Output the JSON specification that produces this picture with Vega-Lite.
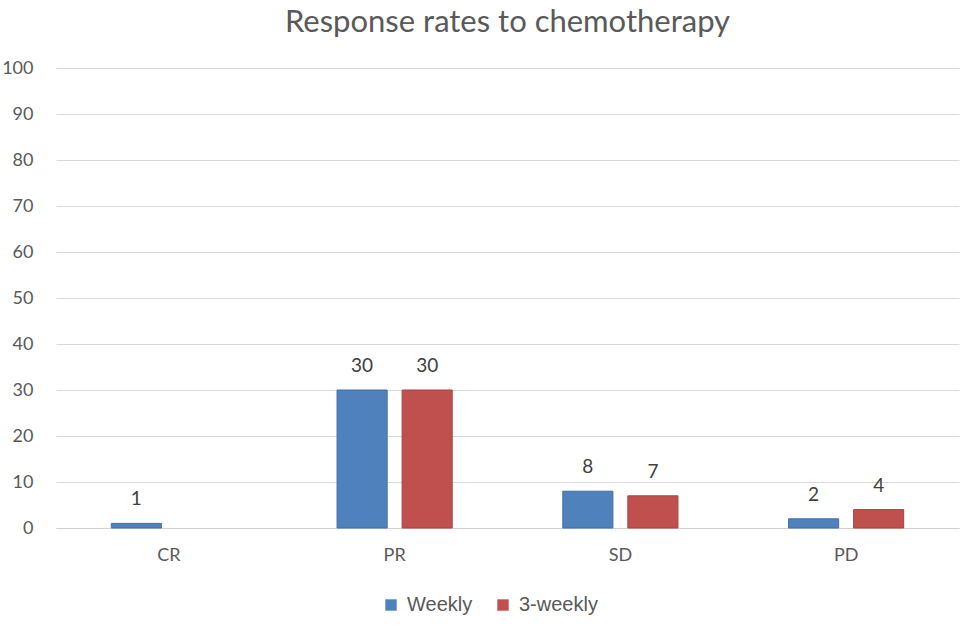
{
  "$schema": "https://vega.github.io/schema/vega-lite/v6.json",
  "autosize": "none",
  "padding": {"left": 56, "top": 68, "right": 1, "bottom": 101},
  "width": 903,
  "height": 460,
  "background": "white",
  "title": {
    "text": "Response rates to chemotherapy",
    "font": "Lato",
    "fontSize": 31,
    "fontWeight": "normal",
    "color": "#595959",
    "anchor": "middle",
    "offset": 20
  },
  "config": {
    "view": {"stroke": null},
    "font": "Lato"
  },
  "data": {
    "values": [
      {"response": "CR", "schedule": "Weekly", "value": 1},
      {"response": "CR", "schedule": "3-weekly", "value": 0},
      {"response": "PR", "schedule": "Weekly", "value": 30},
      {"response": "PR", "schedule": "3-weekly", "value": 30},
      {"response": "SD", "schedule": "Weekly", "value": 8},
      {"response": "SD", "schedule": "3-weekly", "value": 7},
      {"response": "PD", "schedule": "Weekly", "value": 2},
      {"response": "PD", "schedule": "3-weekly", "value": 4}
    ]
  },
  "encoding": {
    "x": {
      "field": "response",
      "type": "nominal",
      "sort": ["CR", "PR", "SD", "PD"],
      "scale": {"paddingInner": 0.49, "paddingOuter": 0.245},
      "axis": {
        "title": null,
        "labelAngle": 0,
        "labelFontSize": 18,
        "labelColor": "#595959",
        "labelPadding": 18,
        "ticks": false,
        "domainColor": "#d0d0d0",
        "grid": false
      }
    },
    "xOffset": {
      "field": "schedule",
      "type": "nominal",
      "sort": ["Weekly", "3-weekly"],
      "scale": {"domain": ["Weekly", "3-weekly"], "paddingInner": 0.23}
    },
    "y": {
      "field": "value",
      "type": "quantitative",
      "scale": {"domain": [0, 100]},
      "axis": {
        "title": null,
        "values": [0, 10, 20, 30, 40, 50, 60, 70, 80, 90, 100],
        "labelFontSize": 18,
        "labelColor": "#595959",
        "labelPadding": 23,
        "ticks": false,
        "domain": false,
        "gridColor": "#d9d9d9"
      }
    }
  },
  "layer": [
    {
      "transform": [{"filter": "datum.value > 0"}],
      "mark": {"type": "bar", "strokeWidth": 1},
      "encoding": {
        "color": {
          "field": "schedule",
          "type": "nominal",
          "scale": {"domain": ["Weekly", "3-weekly"], "range": ["#4f81bd", "#c0504d"]},
          "legend": {
            "title": null,
            "orient": "none",
            "legendX": 325,
            "legendY": 527,
            "direction": "horizontal",
            "symbolType": "square",
            "symbolSize": 130,
            "symbolStrokeWidth": 0,
            "labelFontSize": 20,
            "labelColor": "#595959",
            "labelFont": "Liberation Sans",
            "columnPadding": 20,
            "labelOffset": 6
          }
        },
        "stroke": {
          "field": "schedule",
          "type": "nominal",
          "scale": {"domain": ["Weekly", "3-weekly"], "range": ["#3f6fa8", "#a84240"]},
          "legend": null
        }
      }
    },
    {
      "transform": [{"filter": "datum.value > 0"}],
      "mark": {"type": "text", "dy": -14, "fontSize": 19, "color": "#404040", "baseline": "bottom"},
      "encoding": {
        "text": {"field": "value", "type": "quantitative"}
      }
    }
  ]
}
